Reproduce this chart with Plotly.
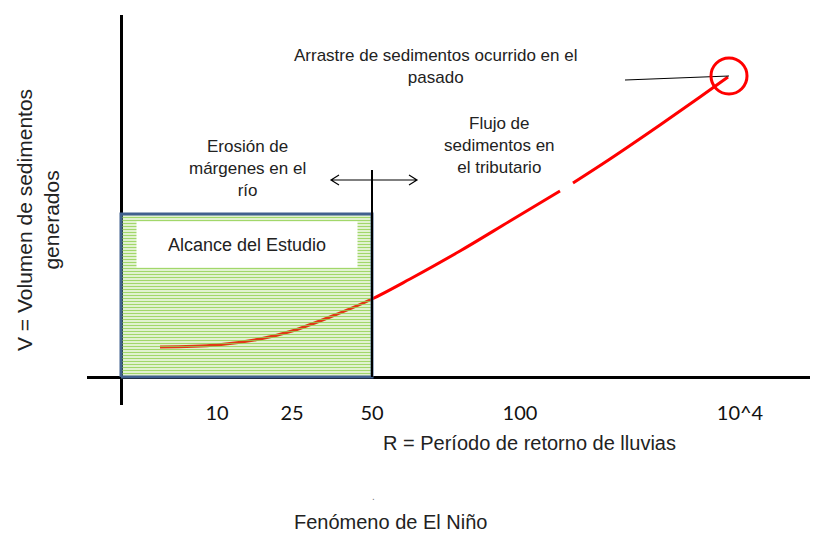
import plotly.graph_objects as go

# Schematic curve: V (volume of sediments) vs R (return period), in diagram units
curve_r = [39, 96, 139, 171, 209, 251, 289, 339, 389, 439, None, 452, 489, 539, 579, 607]
curve_v = [30, 32, 38, 46, 60, 78, 98, 126, 156, 186, None, 194, 218, 252, 280, 300]

# Tick positions (diagram units) and their labels
tick_pos = [96, 171, 251, 399, 619]
tick_labels = ["10", "25", "50", "100", "10^4"]

# Study scope box (R from origin to the "50" tick, V up to box top)
scope_r = [0, 251, 251, 0, 0]
scope_v = [0, 0, 163, 163, 0]

NARROW = "Liberation Sans Narrow, Arial Narrow, Liberation Sans, Arial, sans-serif"
TXT = "#222222"

# plot area in page pixels (used to place paper-referenced labels)
PL, PR, PT, PB = 87, 818, 15, 405


def px2paper(px, py):
    return (px - PL) / (PR - PL), (PB - py) / (PB - PT)


fig = go.Figure()

fig.add_trace(go.Scatter(
    x=curve_r, y=curve_v, mode="lines",
    line=dict(color="#ff0000", width=3, shape="spline", smoothing=1.0),
    connectgaps=False, hoverinfo="skip", showlegend=False,
))

fig.add_trace(go.Scatter(
    x=scope_r, y=scope_v, mode="lines", fill="toself",
    fillcolor="rgba(0,0,0,0)",
    fillpattern=dict(shape="-", fgcolor="#92d050", bgcolor="rgba(255,255,255,0)",
                     size=3, solidity=0.55, fgopacity=0.85),
    line=dict(color="#41608e", width=3),
    hoverinfo="skip", showlegend=False,
))

shapes = [
    dict(type="line", xref="x", yref="y", x0=251, x1=251, y0=0, y1=207,
         line=dict(color="black", width=2)),
    dict(type="path", xref="x", yref="y",
         path="M 210,197 L 296,197 M 218,202 L 210,197 L 218,192 M 288,202 L 296,197 L 288,192",
         line=dict(color="black", width=1.2)),
    dict(type="line", xref="x", yref="y", x0=504, y0=297, x1=608, y1=301,
         line=dict(color="black", width=1.2)),
    dict(type="circle", xref="x", yref="y", x0=590, x1=626, y0=283, y1=319,
         line=dict(color="#ff0000", width=3)),
]

anns = []
for x, y, t in [
    (314, 311, "Arrastre de sedimentos ocurrido en el<br>pasado"),
    (126, 209, "Erosión de<br>márgenes en el<br>río"),
    (378, 232, "Flujo de<br>sedimentos en<br>el tributario"),
]:
    anns.append(dict(xref="x", yref="y", x=x, y=y, text=t, showarrow=False, align="center",
                     font=dict(family=NARROW, size=17, color=TXT)))

anns.append(dict(xref="x", yref="y", x=126, y=133, showarrow=False,
                 text="Alcance del Estudio", bgcolor="white", width=218, height=43,
                 font=dict(family=NARROW, size=18, color=TXT)))

for (px, py), t, size, col, ang in [
    ((529, 443), "R = Período de retorno de lluvias", 20, TXT, 0),
    ((390, 522), "Fenómeno de El Niño", 20, TXT, 0),
    ((373, 496), ".", 10, "#777777", 0),
    ((38, 220), "V = Volumen de sedimentos<br>generados", 21, TXT, -90),
]:
    fx, fy = px2paper(px, py)
    anns.append(dict(xref="paper", yref="paper", x=fx, y=fy, text=t, showarrow=False,
                     textangle=ang, xanchor="center", yanchor="middle",
                     font=dict(family=NARROW, size=size, color=col)))

# page has an 8px body margin; size and margins compensate for it
fig.update_layout(
    width=810, height=527,
    margin=dict(l=PL - 8, r=0, t=PT - 8, b=527 - (PB - 8)),
    paper_bgcolor="white", plot_bgcolor="white",
    shapes=shapes, annotations=anns,
    xaxis=dict(range=[-34, 697], showgrid=False, zeroline=True, zerolinecolor="black",
               zerolinewidth=3, showline=False, tickmode="array", tickvals=tick_pos,
               ticktext=tick_labels, ticks="", ticklabelstandoff=-6,
               tickfont=dict(family="Lato, Open Sans, sans-serif", size=20, color="#111111")),
    yaxis=dict(range=[-28, 362], showgrid=False, zeroline=True, zerolinecolor="black",
               zerolinewidth=3, showline=False, showticklabels=False, ticks=""),
)

fig.write_html("out.html")
